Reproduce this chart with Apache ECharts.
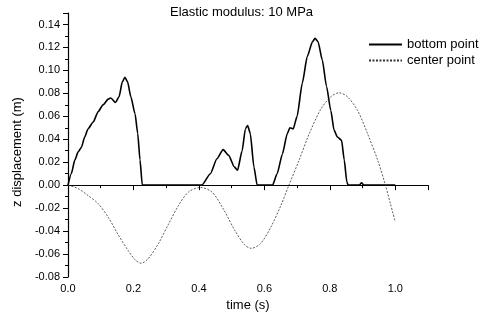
<!DOCTYPE html>
<html>
<head>
<meta charset="utf-8">
<script src="https://cdn.jsdelivr.net/npm/echarts@6/dist/echarts.min.js"></script>
<style>
  html, body { margin: 0; padding: 0; background: #fff; }
  #main { width: 490px; height: 320px; }
</style>
</head>
<body>
<div id="main"></div>
<script>
// bottom point (solid)
var bottomT = [0, 0.010, 0.021, 0.031, 0.041, 0.051, 0.061, 0.077, 0.092, 0.107, 0.123, 0.131, 0.145, 0.156, 0.166, 0.174, 0.182, 0.192, 0.205, 0.213, 0.220, 0.227,
  0.409, 0.435, 0.455, 0.474, 0.491, 0.508, 0.518, 0.532, 0.542, 0.549, 0.557, 0.568, 0.578,
  0.625, 0.639, 0.655, 0.670, 0.678, 0.688, 0.700, 0.716, 0.731, 0.747, 0.755, 0.764, 0.777, 0.790, 0.803, 0.813, 0.823, 0.836, 0.844, 0.852, 0.856,
  0.890, 0.897, 0.904, 1.0];
var bottomZ = [0, 0.010, 0.022, 0.029, 0.033, 0.042, 0.049, 0.055, 0.064, 0.070, 0.075, 0.076, 0.072, 0.077, 0.090, 0.094, 0.090, 0.077, 0.062, 0.045, 0.022, 0,
  0, 0.010, 0.023, 0.031, 0.026, 0.016, 0.013, 0.030, 0.049, 0.052, 0.045, 0.016, 0,
  0, 0.010, 0.027, 0.045, 0.050, 0.049, 0.060, 0.089, 0.112, 0.125, 0.128, 0.125, 0.109, 0.086, 0.065, 0.048, 0.042, 0.039, 0.022, 0.003, 0,
  0, 0.002, 0, 0];

// center point (dashed)
var centerT = [0, 0.031, 0.061, 0.092, 0.123, 0.153, 0.184, 0.205, 0.223, 0.245, 0.276, 0.307, 0.337, 0.368, 0.404, 0.440, 0.475, 0.511, 0.540, 0.560, 0.588, 0.619, 0.650, 0.675, 0.705, 0.736, 0.772, 0.803, 0.828, 0.854, 0.885, 0.915, 0.946, 0.970, 0.985, 1.0];
var centerZ = [0, -0.003, -0.009, -0.016, -0.028, -0.043, -0.057, -0.065, -0.068, -0.064, -0.051, -0.034, -0.018, -0.006, -0.002, -0.006, -0.021, -0.040, -0.052, -0.055, -0.051, -0.037, -0.018, 0, 0.021, 0.044, 0.066, 0.077, 0.0805, 0.077, 0.065, 0.045, 0.022, 0, -0.016, -0.032];

function zip(a, b) {
  var out = [];
  for (var i = 0; i < a.length; i++) out.push([a[i], b[i]]);
  return out;
}

var myChart = echarts.init(document.getElementById('main'));
var font = 'Arial, "Liberation Sans", sans-serif';
var option = {
  animation: false,
  backgroundColor: '#fff',
  title: {
    text: 'Elastic modulus: 10 MPa',
    left: 170,
    top: 6,
    padding: 0,
    textStyle: { fontFamily: font, fontSize: 13, fontWeight: 'normal', color: '#000' }
  },
  legend: {
    orient: 'vertical',
    left: 368,
    top: 38,
    padding: 0,
    itemWidth: 33,
    itemHeight: 10,
    itemGap: 3,
    itemStyle: { opacity: 0 },
    textStyle: { fontFamily: font, fontSize: 13, color: '#000' },
    data: ['bottom point', 'center point']
  },
  grid: { left: 68, right: 62, top: 13, bottom: 43 },
  xAxis: {
    type: 'value',
    min: 0,
    max: 1.1,
    interval: 0.2,
    name: 'time (s)',
    nameLocation: 'middle',
    nameGap: 21,
    nameTextStyle: { fontFamily: font, fontSize: 13, color: '#000' },
    axisLine: { lineStyle: { color: '#000', width: 1.2 } },
    axisTick: { inside: false, length: 5, lineStyle: { color: '#000', width: 1 } },
    minorTick: { show: true, splitNumber: 2, length: 3, lineStyle: { color: '#000', width: 1 } },
    axisLabel: {
      fontFamily: font, fontSize: 11, color: '#000', margin: 6,
      showMaxLabel: false,
      formatter: function (v) { return v.toFixed(1); }
    },
    splitLine: { show: false }
  },
  yAxis: {
    type: 'value',
    min: -0.08,
    max: 0.15,
    interval: 0.02,
    name: 'z displacement (m)',
    nameLocation: 'middle',
    nameGap: 40,
    nameTextStyle: { fontFamily: font, fontSize: 13, color: '#000', padding: [0, 14, 0, 0] },
    axisLine: { show: true, lineStyle: { color: '#000', width: 1.2 } },
    axisTick: { show: true, inside: false, length: 5, lineStyle: { color: '#000', width: 1 } },
    minorTick: { show: true, splitNumber: 2, length: 3, lineStyle: { color: '#000', width: 1 } },
    axisLabel: {
      fontFamily: font, fontSize: 11, color: '#000', margin: 8,
      showMaxLabel: false,
      formatter: function (v) { return v.toFixed(2); }
    },
    splitLine: { show: false }
  },
  series: [{
    name: 'bottom point',
    type: 'line',
    showSymbol: false,
    symbol: 'none',
    smooth: 0.2,
    smoothMonotone: 'x',
    lineStyle: { color: '#000', width: 1.6 },
    itemStyle: { color: '#000' },
    data: zip(bottomT, bottomZ)
  }, {
    name: 'center point',
    type: 'line',
    showSymbol: false,
    symbol: 'none',
    smooth: 0.3,
    lineStyle: { color: '#333', width: 0.8, type: [2, 1.5] },
    itemStyle: { color: '#333' },
    data: zip(centerT, centerZ)
  }]
};
myChart.setOption(option);
</script>
</body>
</html>
